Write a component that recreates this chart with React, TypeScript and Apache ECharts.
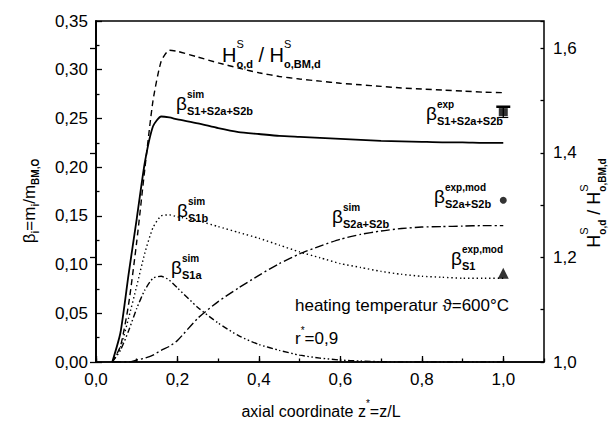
import React, { useEffect, useRef } from "react";
import * as echarts from "echarts";

const FONT = '"Liberation Sans", Arial, Helvetica, sans-serif';

// axial coordinate grid for the simulated curves
const zGrid = [0.04, 0.06, 0.08, 0.10, 0.12, 0.14, 0.16, 0.18, 0.20, 0.25, 0.30, 0.35, 0.40, 0.45, 0.50, 0.55, 0.60, 0.65, 0.70, 0.75, 0.80, 0.85, 0.90, 0.95, 1.00];
const betaTotalSim = [0, 0.030, 0.090, 0.147, 0.205, 0.242, 0.252, 0.251, 0.249, 0.245, 0.240, 0.236, 0.234, 0.232, 0.231, 0.230, 0.229, 0.228, 0.227, 0.2265, 0.226, 0.2255, 0.2255, 0.225, 0.225];
const betaS1bSim = [0, 0.015, 0.045, 0.078, 0.112, 0.138, 0.150, 0.151, 0.149, 0.145, 0.139, 0.133, 0.127, 0.120, 0.113, 0.107, 0.101, 0.097, 0.093, 0.090, 0.088, 0.087, 0.086, 0.086, 0.086];
const betaS1aSim = [0, 0.012, 0.032, 0.055, 0.074, 0.086, 0.088, 0.084, 0.076, 0.056, 0.040, 0.027, 0.018, 0.012, 0.007, 0.004, 0.002, 0.001, 0.0003, 0, 0, 0, 0, 0, 0];
const betaS2Sim = [0, 0, 0, 0.002, 0.004, 0.007, 0.012, 0.016, 0.022, 0.045, 0.062, 0.076, 0.089, 0.101, 0.111, 0.119, 0.126, 0.131, 0.1345, 0.137, 0.1385, 0.139, 0.1395, 0.140, 0.140];
const hRatio = [1.0, 1.03, 1.11, 1.23, 1.37, 1.50, 1.575, 1.596, 1.594, 1.583, 1.572, 1.562, 1.553, 1.546, 1.541, 1.537, 1.533, 1.530, 1.527, 1.524, 1.522, 1.520, 1.518, 1.516, 1.515];

// experimental points
const expZ = [1.0];
const betaTotalExp = [0.2565];
const betaTotalExpErrUp = [0.0055];
const betaTotalExpErrDown = [0.0055];
const betaS2Exp = [0.166];
const betaS1Exp = [0.091];

type Part = { t: string; s: number; dy?: number; keep?: boolean; b?: boolean };

const canvas = typeof document !== "undefined" ? document.createElement("canvas") : null;
const ctx = canvas ? canvas.getContext("2d") : null;
function measure(t: string, s: number, b?: boolean) {
  if (!ctx) return t.length * s * 0.55;
  ctx.font = `${b ? "bold" : "normal"} ${s}px ${FONT}`;
  return ctx.measureText(t).width;
}

function richLabel(x: number, y: number, parts: Part[], rotation = 0, center = false) {
  const kids: any[] = [];
  let cx = 0;
  let keptW = 0;
  for (const p of parts) {
    const w = measure(p.t, p.s, p.b);
    kids.push({
      type: "text",
      x: cx,
      y: p.dy || 0,
      silent: true,
      style: {
        text: p.t,
        fontSize: p.s,
        fontFamily: FONT,
        fontWeight: p.b ? "bold" : "normal",
        fill: "#000",
        align: "left",
        verticalAlign: "middle",
      },
    });
    if (p.keep) {
      keptW = w;
    } else {
      cx += Math.max(w, keptW);
      keptW = 0;
    }
  }
  if (center) kids.forEach((k) => (k.x -= cx / 2));
  return { type: "group", x, y, rotation, silent: true, children: kids };
}

function beta(x: number, y: number, sup: string, sub: string) {
  return richLabel(x, y, [
    { t: "β", s: 19 },
    { t: sup, s: 10, dy: -9, keep: true, b: true },
    { t: sub, s: 11, dy: 8, b: true },
  ]);
}

const comma = (d: number) => (v: number) => v.toFixed(d).replace(".", ",");

export default function App() {
  const ref = useRef<HTMLDivElement>(null);
  useEffect(() => {
    if (!ref.current) return;
    const chart = echarts.init(ref.current, undefined, { renderer: "svg" });
    const axisLine = { show: true, lineStyle: { color: "#000", width: 1.5 } };
    const tickStyle = { color: "#000", width: 1.3 };
    const labelBase = { color: "#000", fontSize: 17, fontFamily: FONT };
    const pairs = (ys: number[]) => zGrid.map((z, i) => [z, ys[i]]);

    chart.setOption({
      animation: false,
      backgroundColor: "#fff",
      grid: {
        left: 96,
        right: 69,
        top: 21,
        bottom: 63,
        show: true,
        borderColor: "#000",
        borderWidth: 1.5,
        containLabel: false,
        outerBoundsMode: "none",
      },
      xAxis: [
        {
          type: "value",
          min: 0,
          max: 1.1,
          interval: 0.2,
          position: "bottom",
          axisLine,
          axisTick: { inside: true, length: 6, lineStyle: tickStyle },
          axisLabel: { ...labelBase, formatter: comma(1), showMaxLabel: false, margin: 9 },
          splitLine: { show: false },
        },
        {
          type: "value",
          min: 0,
          max: 1.1,
          interval: 0.1,
          position: "bottom",
          axisLine: { show: false },
          axisTick: { inside: true, length: 3.5, lineStyle: tickStyle },
          axisLabel: { show: false },
          splitLine: { show: false },
        },
      ],
      yAxis: [
        {
          type: "value",
          min: 0,
          max: 0.35,
          interval: 0.05,
          position: "left",
          axisLine,
          axisTick: { inside: true, length: 6, lineStyle: tickStyle },
          minorTick: { show: true, splitNumber: 2, length: 3.5, lineStyle: tickStyle },
          axisLabel: { ...labelBase, formatter: comma(2), margin: 8 },
          splitLine: { show: false },
        },
        {
          type: "value",
          min: 1.0,
          max: 1.652,
          interval: 0.2,
          position: "right",
          axisLine,
          axisTick: { inside: true, length: 6, lineStyle: tickStyle },
          axisLabel: { ...labelBase, formatter: comma(1), showMaxLabel: false, margin: 9 },
          splitLine: { show: false },
        },
        {
          type: "value",
          min: 1.0,
          max: 1.652,
          interval: 0.1,
          position: "right",
          axisLine: { show: false },
          axisTick: { inside: true, length: 3.5, lineStyle: tickStyle },
          axisLabel: { show: false },
          splitLine: { show: false },
        },
      ],
      series: [
        {
          type: "line",
          name: "total sim",
          data: pairs(betaTotalSim),
          showSymbol: false,
          smooth: 0.2,
          lineStyle: { color: "#000", width: 1.8, type: "solid" },
        },
        {
          type: "line",
          name: "S1b sim",
          data: pairs(betaS1bSim),
          showSymbol: false,
          smooth: 0.2,
          lineStyle: { color: "#000", width: 1.4, type: [1.4, 2.8] },
        },
        {
          type: "line",
          name: "S1a sim",
          data: pairs(betaS1aSim),
          showSymbol: false,
          smooth: 0.2,
          lineStyle: { color: "#000", width: 1.4, type: [6, 2.5, 1.5, 2.5, 1.5, 2.5] },
        },
        {
          type: "line",
          name: "S2 sim",
          data: pairs(betaS2Sim),
          showSymbol: false,
          smooth: 0.2,
          lineStyle: { color: "#000", width: 1.4, type: [9, 3, 2, 3] },
        },
        {
          type: "line",
          name: "H ratio",
          yAxisIndex: 1,
          data: pairs(hRatio),
          showSymbol: false,
          smooth: 0.2,
          lineStyle: { color: "#000", width: 1.4, type: [6, 4] },
        },
        {
          type: "custom",
          name: "total exp err",
          clip: false,
          data: expZ.map((z, i) => [z, betaTotalExp[i], betaTotalExpErrUp[i], betaTotalExpErrDown[i]]),
          encode: { x: 0, y: 1 },
          renderItem: (params: any, api: any) => {
            const x = api.value(0);
            const v = api.value(1);
            const top = api.coord([x, v + api.value(2)]);
            const bot = api.coord([x, v - api.value(3)]);
            return {
              type: "group",
              children: [
                { type: "line", shape: { x1: top[0], y1: top[1], x2: bot[0], y2: bot[1] }, style: { stroke: "#000", lineWidth: 1.3 } },
                { type: "line", shape: { x1: top[0] - 7, y1: top[1], x2: top[0] + 7, y2: top[1] }, style: { stroke: "#000", lineWidth: 2.5 } },
                { type: "line", shape: { x1: bot[0] - 5, y1: bot[1], x2: bot[0] + 5, y2: bot[1] }, style: { stroke: "#000", lineWidth: 1.2 } },
              ],
            };
          },
        },
        {
          type: "scatter",
          name: "total exp",
          data: expZ.map((z, i) => [z, betaTotalExp[i]]),
          symbol: "rect",
          symbolSize: [9, 8],
          itemStyle: { color: "#000" },
          clip: false,
        },
        {
          type: "scatter",
          name: "S2 exp",
          data: expZ.map((z, i) => [z, betaS2Exp[i]]),
          symbol: "circle",
          symbolSize: 7,
          itemStyle: { color: "#000" },
        },
        {
          type: "scatter",
          name: "S1 exp",
          data: expZ.map((z, i) => [z, betaS1Exp[i]]),
          symbol: "triangle",
          symbolSize: 11,
          itemStyle: { color: "#000" },
        },
      ],
      graphic: [
        // axis titles
        richLabel(321, 411, [
          { t: "axial coordinate z", s: 16 },
          { t: "*", s: 10, dy: -8 },
          { t: "=z/L", s: 16 },
        ], 0, true),
        richLabel(29, 201, [
          { t: "β", s: 17 },
          { t: "i", s: 10, dy: 6, b: true },
          { t: "=m", s: 17 },
          { t: "i", s: 10, dy: 6, b: true },
          { t: "/m", s: 17 },
          { t: "BM,O", s: 10, dy: 6, b: true },
        ], Math.PI / 2, true),
        richLabel(594, 203, [
          { t: "H", s: 18 },
          { t: "S", s: 11, dy: -10, keep: true },
          { t: "o,d", s: 10, dy: 8, b: true },
          { t: " / ", s: 18 },
          { t: "H", s: 18 },
          { t: "S", s: 11, dy: -10, keep: true },
          { t: "o,BM,d", s: 10, dy: 8, b: true },
        ], Math.PI / 2, true),
        // curve annotations
        richLabel(222, 55, [
          { t: "H", s: 20 },
          { t: "S", s: 11, dy: -11, keep: true },
          { t: "o,d", s: 11, dy: 9, b: true },
          { t: " / ", s: 20 },
          { t: "H", s: 20 },
          { t: "S", s: 11, dy: -11, keep: true },
          { t: "o,BM,d", s: 11, dy: 9, b: true },
        ]),
        beta(176, 103, "sim", "S1+S2a+S2b"),
        beta(426, 113, "exp", "S1+S2a+S2b"),
        beta(434, 196, "exp,mod", "S2a+S2b"),
        beta(451, 258, "exp,mod", "S1"),
        beta(177, 210, "sim", "S1b"),
        beta(171, 267, "sim", "S1a"),
        beta(332, 216, "sim", "S2a+S2b"),
        richLabel(295, 305, [{ t: "heating temperatur ϑ=600°C", s: 17 }]),
        richLabel(295, 338, [
          { t: "r", s: 17 },
          { t: "*", s: 10, dy: -8 },
          { t: "=0,9", s: 17 },
        ]),
      ],
    });
    return () => chart.dispose();
  }, []);
  return (
    <div
      ref={ref}
      style={{ position: "fixed", left: 0, top: 0, width: 613, height: 425, background: "#fff" }}
    />
  );
}
